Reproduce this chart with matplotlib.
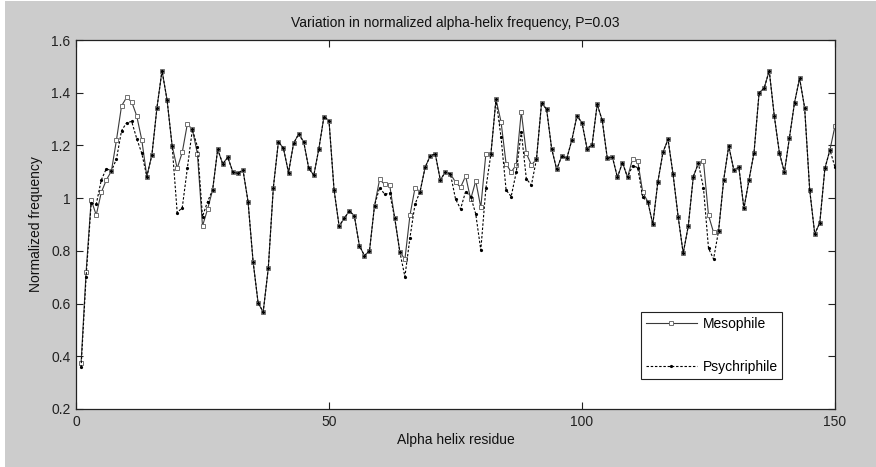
"""Normalized alpha-helix frequency, mesophile vs psychriphile (MATLAB-style figure)."""

import numpy as np
import matplotlib
matplotlib.use("Agg")
import matplotlib.pyplot as plt
from matplotlib.patches import Rectangle

# ── data ───────────────────────────────────────────────────────────────────
residue = np.arange(1, 151)

mesophile = [
    0.373, 0.721, 0.993, 0.936, 1.022, 1.069, 1.103, 1.221, 1.350, 1.382,
    1.366, 1.312, 1.221, 1.082, 1.164, 1.343, 1.484, 1.372, 1.198, 1.113,
    1.174, 1.281, 1.261, 1.168, 0.894, 0.958, 1.031, 1.185, 1.130, 1.155,
    1.099, 1.094, 1.107, 0.987, 0.759, 0.601, 0.569, 0.734, 1.040, 1.214,
    1.189, 1.097, 1.208, 1.243, 1.214, 1.113, 1.087, 1.188, 1.309, 1.294,
    1.031, 0.894, 0.923, 0.951, 0.934, 0.820, 0.782, 0.800, 0.972, 1.071,
    1.052, 1.049, 0.923, 0.796, 0.768, 0.935, 1.039, 1.025, 1.117, 1.160,
    1.168, 1.069, 1.099, 1.092, 1.061, 1.041, 1.084, 0.996, 1.065, 0.965,
    1.168, 1.168, 1.375, 1.290, 1.130, 1.099, 1.126, 1.328, 1.170, 1.126,
    1.147, 1.360, 1.338, 1.188, 1.109, 1.160, 1.151, 1.221, 1.312, 1.286,
    1.188, 1.203, 1.356, 1.295, 1.151, 1.157, 1.079, 1.135, 1.079, 1.149,
    1.142, 1.022, 0.987, 0.901, 1.063, 1.174, 1.223, 1.090, 0.930, 0.791,
    0.894, 1.082, 1.132, 1.142, 0.935, 0.870, 0.877, 1.069, 1.198, 1.107,
    1.117, 0.961, 1.069, 1.173, 1.400, 1.417, 1.484, 1.312, 1.173, 1.098,
    1.229, 1.362, 1.455, 1.343, 1.031, 0.864, 0.907, 1.113, 1.183, 1.274,
]

psychriphile = [
    0.358, 0.702, 0.980, 0.977, 1.069, 1.112, 1.103, 1.149, 1.256, 1.286,
    1.291, 1.226, 1.170, 1.082, 1.164, 1.343, 1.484, 1.372, 1.198, 0.945,
    0.964, 1.113, 1.261, 1.195, 0.930, 0.987, 1.031, 1.185, 1.130, 1.155,
    1.099, 1.094, 1.107, 0.987, 0.759, 0.601, 0.569, 0.734, 1.040, 1.214,
    1.189, 1.097, 1.208, 1.243, 1.214, 1.113, 1.087, 1.188, 1.309, 1.294,
    1.031, 0.894, 0.923, 0.951, 0.934, 0.820, 0.782, 0.800, 0.972, 1.040,
    1.015, 1.018, 0.923, 0.796, 0.702, 0.850, 0.977, 1.025, 1.117, 1.160,
    1.168, 1.069, 1.099, 1.092, 0.997, 0.959, 1.025, 1.006, 0.940, 0.803,
    1.037, 1.168, 1.375, 1.231, 1.031, 1.006, 1.098, 1.252, 1.073, 1.050,
    1.147, 1.360, 1.338, 1.188, 1.109, 1.160, 1.151, 1.221, 1.312, 1.286,
    1.188, 1.203, 1.356, 1.295, 1.151, 1.157, 1.079, 1.135, 1.079, 1.123,
    1.116, 1.003, 0.987, 0.901, 1.063, 1.174, 1.223, 1.090, 0.930, 0.791,
    0.894, 1.082, 1.132, 1.040, 0.810, 0.769, 0.877, 1.069, 1.198, 1.107,
    1.117, 0.961, 1.069, 1.173, 1.400, 1.417, 1.484, 1.312, 1.173, 1.098,
    1.229, 1.362, 1.455, 1.343, 1.031, 0.864, 0.907, 1.113, 1.183, 1.117,
]

x_ticks = [0, 50, 100, 150]
y_ticks = [0.2, 0.4, 0.6, 0.8, 1.0, 1.2, 1.4, 1.6]
y_ticklabels = ["0.2", "0.4", "0.6", "0.8", "1", "1.2", "1.4", "1.6"]

# ── figure ─────────────────────────────────────────────────────────────────
plt.rcParams['font.family'] = ['Liberation Sans', 'DejaVu Sans']
plt.rcParams['font.size'] = 10

BG = '#cccccc'
fig = plt.figure(figsize=(8.76, 4.67), dpi=100, facecolor='white')
# gray MATLAB figure background, thin white strip on the left like the screenshot
fig.patches.append(Rectangle((5 / 876, 0), 1 - 5 / 876, 1 - 1 / 467,
                             transform=fig.transFigure, facecolor=BG,
                             edgecolor='none', zorder=-10))

ax = fig.add_axes([76 / 876, 58 / 467, 759 / 876, 369 / 467])
ax.set_facecolor('white')

ax.plot(residue, mesophile, color='#3a3a3a', lw=0.8, marker='s', ms=3.3,
        mfc='white', mec='#707070', mew=0.7, label='Mesophile', zorder=2)
ax.plot(residue, psychriphile, color='black', lw=0.8, ls=(0, (2.2, 1.6)),
        marker='o', ms=2.3, mfc='black', mec='black', mew=0,
        label='Psychriphile', zorder=3)

ax.set_xlim(0, 150)
ax.set_ylim(0.2, 1.6)
ax.set_xticks(x_ticks)
ax.set_yticks(y_ticks)
ax.set_yticklabels(y_ticklabels)
ax.tick_params(direction='in', length=5, width=0.8, colors='#222222',
               top=True, right=True, labelsize=10, pad=4)
for s in ax.spines.values():
    s.set_linewidth(0.9)
    s.set_color('#222222')

ax.set_title("Variation in normalized alpha-helix frequency, P=0.03",
             fontsize=10, pad=9, color='#111111')
ax.set_xlabel("Alpha helix residue", fontsize=10, labelpad=3, color='#111111')
ax.set_ylabel("Normalized frequency", fontsize=10, labelpad=6, color='#111111')

leg = ax.legend(loc='lower left', bbox_to_anchor=(0.744, 0.081),
                borderaxespad=0, numpoints=1, handlelength=3.7,
                handletextpad=0.4, labelspacing=2.1, borderpad=0.35,
                fancybox=False, framealpha=1, edgecolor='#222222', fontsize=10)
leg.get_frame().set_linewidth(0.8)

plt.savefig("out.png", dpi=100, facecolor=fig.get_facecolor())
